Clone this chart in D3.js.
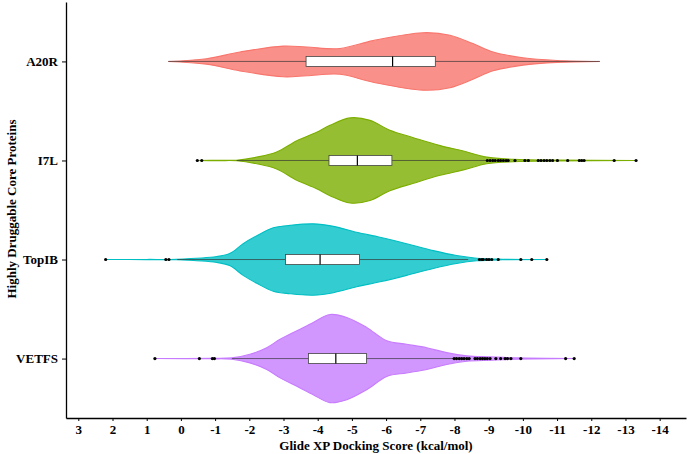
<!DOCTYPE html>
<html>
<head>
<meta charset="utf-8">
<script src="https://cdn.jsdelivr.net/npm/d3@7"></script>
<style>
  body { margin: 0; background: #fff; }
  svg text { font-family: "Liberation Serif", "Times New Roman", serif; font-weight: bold; fill: #000; }
  .axis path, .axis line { stroke: #000; }
</style>
</head>
<body>
<div id="chart-area"></div>
<script>
// SVG size
let width = 688,
	height = 454;

// categories, top to bottom
let proteins = ["A20R", "I7L", "TopIB", "VETFS"];
let colors = ["#F8766D", "#7CAE00", "#00BFC4", "#C77CFF"];

// x tick labels (docking score, reversed axis)
let xTicks = [3, 2, 1, 0, -1, -2, -3, -4, -5, -6, -7, -8, -9, -10, -11, -12, -13, -14];

// violin outlines: [score, relative density]
let densA20R = [[0.37, 0], [-0.75, 0.055], [-1.73, 0.19], [-2.99, 0.31], [-3.68, 0.29], [-4.65, 0.26],
	[-5.62, 0.42], [-7.08, 0.58], [-7.87, 0.53], [-8.54, 0.36], [-9.13, 0.19], [-10.0, 0.075], [-11.0, 0.02], [-12.25, 0]];
let densI7L = [[-0.48, 0], [-1.1, 0.004], [-1.63, 0.006], [-2.22, 0.067], [-2.80, 0.17], [-3.39, 0.40], [-3.97, 0.57],
	[-4.36, 0.71], [-4.95, 0.86], [-5.53, 0.81], [-6.11, 0.61], [-6.80, 0.46], [-7.58, 0.30], [-8.26, 0.19],
	[-8.94, 0.067], [-9.72, 0.026], [-11.0, 0.008], [-13.31, 0]];
let densTopIB = [[2.20, 0], [1.0, 0.002], [0.12, 0.006], [-1.05, 0.06], [-1.44, 0.127], [-1.82, 0.32], [-2.22, 0.48],
	[-2.70, 0.64], [-3.19, 0.69], [-3.87, 0.72], [-4.46, 0.67], [-5.14, 0.55], [-5.82, 0.45], [-6.60, 0.32],
	[-7.38, 0.18], [-8.06, 0.08], [-8.65, 0.026], [-9.4, 0.006], [-10.70, 0]];
let densVETFS = [[0.76, 0], [-0.9, 0.005], [-1.49, 0.014], [-2.02, 0.087], [-2.51, 0.22], [-2.90, 0.39], [-3.39, 0.56],
	[-3.87, 0.73], [-4.36, 0.89], [-4.85, 0.83], [-5.43, 0.63], [-6.02, 0.36], [-6.60, 0.29], [-7.19, 0.22],
	[-7.77, 0.12], [-8.36, 0.055], [-9.04, 0.034], [-9.82, 0.014], [-11.50, 0]];

// boxplot stats: [whisker low, q1, median, q3, whisker high]
let boxA20R = [0.37, -3.66, -6.19, -7.44, -12.25];
let boxI7L = [-1.63, -4.33, -5.16, -6.17, -8.94];
let boxTopIB = [0.11, -3.06, -4.07, -5.22, -8.40];
let boxVETFS = [-1.49, -3.73, -4.53, -5.43, -7.96];

// outliers
let outA20R = [];
let outI7L = [-0.48, -0.61, -8.96, -9.04, -9.12, -9.19, -9.28, -9.35, -9.43, -9.51, -9.57, -9.77, -10.06, -10.16,
	-10.45, -10.53, -10.62, -10.70, -10.79, -10.87, -11.01, -11.31, -11.65, -11.72, -11.79, -12.67, -13.31];
let outTopIB = [2.20, 0.44, 0.35, -8.73, -8.80, -8.84, -8.94, -9.01, -9.09, -9.28, -9.94, -10.26, -10.70];
let outVETFS = [0.76, -0.54, -0.92, -0.98, -7.99, -8.06, -8.14, -8.21, -8.28, -8.36, -8.43, -8.60, -8.67, -8.75,
	-8.82, -8.89, -8.96, -9.04, -9.21, -9.35, -9.48, -9.55, -9.65, -9.94, -11.25, -11.50];

let densities = [densA20R, densI7L, densTopIB, densVETFS];
let boxes = [boxA20R, boxI7L, boxTopIB, boxVETFS];
let outliers = [outA20R, outI7L, outTopIB, outVETFS];

drawChart();

function drawChart() {
	let margin = {left: 66, right: 2, top: 2, bottom: 36};

	let svg = d3.select("#chart-area").append("svg").attr("width", width).attr("height", height);

	let x = d3.scaleLinear().domain([3.36, -14.77]).range([margin.left, width - margin.right]);
	let y = d3.scalePoint().domain(proteins).range([margin.top, height - margin.bottom]).padding(0.6);
	let w = d3.scaleLinear().domain([0, 1]).range([0, y.step() / 2]);
	let color = d3.scaleOrdinal().domain(proteins).range(colors);

	proteins.forEach((p, i) => {
		let yc = y(p);
		let g = svg.append("g").attr("class", "violin");

		// violin
		let area = d3.area()
			.x(d => x(d[0]))
			.y0(d => yc - w(d[1]))
			.y1(d => yc + w(d[1]))
			.curve(d3.curveCatmullRom.alpha(0.5));

		g.append("path")
			.datum(densities[i])
			.attr("d", area)
			.attr("fill", color(p))
			.attr("fill-opacity", 0.8)
			.attr("stroke", color(p))
			.attr("stroke-width", 1.1);

		// boxplot
		let b = boxes[i];
		g.append("line")
			.attr("x1", x(b[0])).attr("x2", x(b[4]))
			.attr("y1", yc).attr("y2", yc)
			.attr("stroke", "#333").attr("stroke-opacity", 0.85).attr("stroke-width", 0.8);

		g.append("rect")
			.attr("x", x(b[1]))
			.attr("width", x(b[3]) - x(b[1]))
			.attr("y", yc - 5)
			.attr("height", 10)
			.attr("fill", "#fff")
			.attr("stroke", "#444")
			.attr("stroke-width", 0.8);

		g.append("line")
			.attr("x1", x(b[2])).attr("x2", x(b[2]))
			.attr("y1", yc - 5).attr("y2", yc + 5)
			.attr("stroke", "#000").attr("stroke-width", 1.2);

		// outliers
		g.selectAll("circle")
			.data(outliers[i])
			.enter()
			.append("circle")
			.attr("cx", d => x(d))
			.attr("cy", yc)
			.attr("r", 1.6)
			.attr("fill", "#000");
	});

	// Axis
	let xAxis = d3.axisBottom(x).tickValues(xTicks).tickFormat(d => String(d)).tickSizeInner(3).tickSizeOuter(0).tickPadding(4);
	let yAxis = d3.axisLeft(y).tickSizeInner(4).tickSizeOuter(0).tickPadding(4);

	let gx = svg.append("g")
		.attr("class", "axis x-axis")
		.attr("transform", "translate(0," + (height - margin.bottom) + ")")
		.call(xAxis);
	gx.select(".domain").attr("stroke-width", 1.3);
	gx.selectAll("text").attr("font-size", 13).style("font-family", "Liberation Serif, serif");

	let gy = svg.append("g")
		.attr("class", "axis y-axis")
		.attr("transform", "translate(" + margin.left + ",0)")
		.call(yAxis);
	gy.select(".domain").attr("stroke-width", 1.3);
	gy.selectAll("text").attr("font-size", 13).style("font-family", "Liberation Serif, serif");

	svg.append("text")
		.attr("class", "x axis-label")
		.attr("x", (margin.left + width - margin.right) / 2)
		.attr("y", 450)
		.attr("text-anchor", "middle")
		.attr("font-size", 13)
		.text("Glide XP Docking Score (kcal/mol)");

	svg.append("text")
		.attr("class", "y axis-label")
		.attr("x", -209)
		.attr("y", 16)
		.attr("text-anchor", "middle")
		.attr("transform", "rotate(-90)")
		.attr("font-size", 13)
		.text("Highly Druggable Core Proteins");
}
</script>
</body>
</html>
